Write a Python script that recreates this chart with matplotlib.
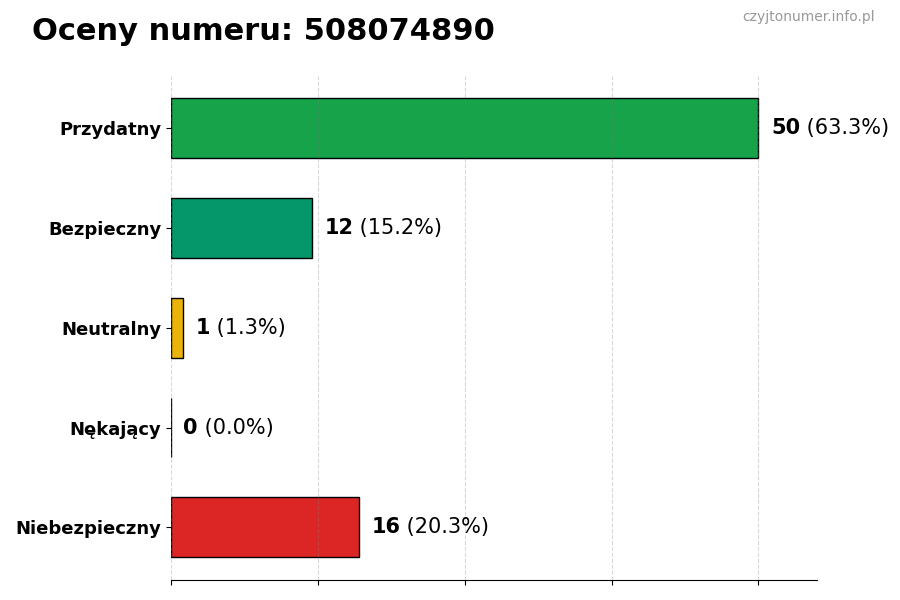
import matplotlib
matplotlib.use("Agg")
import matplotlib.pyplot as plt

# data
categories = ["Przydatny", "Bezpieczny", "Neutralny", "Nękający", "Niebezpieczny"]
counts = [50, 12, 1, 0, 16]
colors = ["#16a34a", "#059669", "#eab308", "#6b7280", "#dc2626"]
title = "Oceny numeru: 508074890"
watermark = "czyjtonumer.info.pl"

total = sum(counts)

fig = plt.figure(figsize=(9, 6), dpi=100)
ax = fig.add_axes([0.19, 0.033, 0.718, 0.84])

ypos = list(range(len(categories)))
ax.barh(ypos, counts, height=0.6, color=colors, edgecolor="black", linewidth=1, zorder=2)
ax.set_yticks(ypos)
ax.set_yticklabels(categories, fontsize=13, fontweight="bold")
ax.set_ylim(len(categories) - 0.47, -0.52)
ax.set_xlim(0, 55)
ax.set_xticks([0, 12.5, 25, 37.5, 50])
ax.set_xticklabels([])
ax.xaxis.grid(True, linestyle="--", color="gray", alpha=0.3, linewidth=0.8, zorder=3)
ax.set_axisbelow(False)
for s in ["top", "right", "left"]:
    ax.spines[s].set_visible(False)

for y, c in zip(ypos, counts):
    pct = c / total * 100
    t1 = ax.annotate(str(c), xy=(c, y), xytext=(9, 0), textcoords="offset points",
                     va="center", ha="left", fontsize=15, fontweight="bold")
    ax.annotate(" (%.1f%%)" % pct, xy=(1, 0.5), xycoords=t1, va="center", ha="left",
                fontsize=15)

fig.text(0.035, 0.947, title, fontsize=22, fontweight="bold", va="center", ha="left")
fig.text(0.972, 0.971, watermark, fontsize=10, color="#999999", va="center", ha="right")

fig.savefig("out.png", dpi=100)
